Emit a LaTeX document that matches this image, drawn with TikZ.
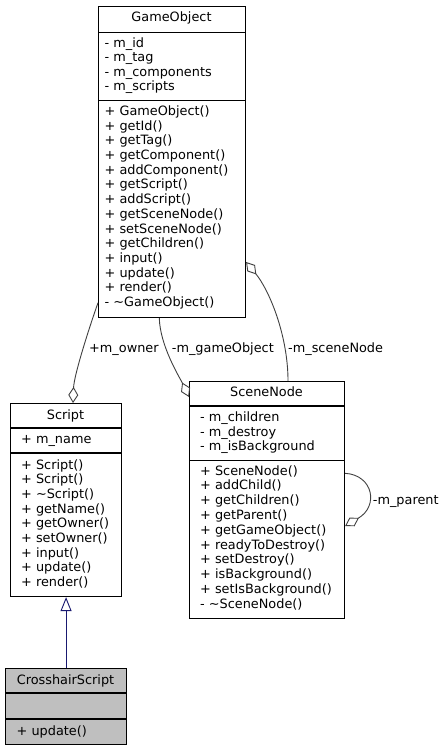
\documentclass[tikz,border=0pt]{standalone}
\usepackage{fontspec}
\setmainfont{DejaVu Sans}
\usetikzlibrary{arrows.meta}
\definecolor{edgegray}{HTML}{404040}
\definecolor{navyline}{HTML}{191970}
\definecolor{hilite}{HTML}{BFBFBF}
\begin{document}
\begin{tikzpicture}[x=1pt,y=-1pt,
  box/.style={draw=black, line width=1.1pt, fill=white, rectangle, inner sep=0pt, anchor=north west},
  sepline/.style={draw=black, line width=1.1pt},
  txt/.style={anchor=base west, inner sep=0pt, font=\fontsize{12.85}{14}\selectfont},
  hdr/.style={anchor=base, inner sep=0pt, font=\fontsize{12.85}{14}\selectfont},
  lbl/.style={anchor=base west, inner sep=0pt, font=\fontsize{12.85}{14}\selectfont},
  assoc/.style={draw=edgegray, line width=0.9pt, -{Diamond[open,length=16pt,width=10pt]}},
  inherit/.style={draw=navyline, line width=0.9pt, -{Triangle[open,length=14pt,width=11pt]}}
]
\useasboundingbox (0,0) rectangle (445,751);

% ---------- GameObject ----------
\node[box, minimum width=147pt, minimum height=311pt] (go) at (98,6) {};
\draw[sepline] ([yshift=-26.5pt]go.north west) -- ([yshift=-26.5pt]go.north east);
\draw[sepline] ([yshift=-94.7pt]go.north west) -- ([yshift=-94.7pt]go.north east);
\node[hdr] (goh) at (171.5,22) {GameObject};
\foreach \t [count=\i from 0] in {- m\_id, - m\_tag, - m\_components, - m\_scripts}
  \node[txt] (goa\i) at (104.5, 47.7+14.3*\i) {\t};
\foreach \t [count=\i from 0] in {+ GameObject(), + getId(), + getTag(), + getComponent(), + addComponent(), + getScript(), + addScript(), + getSceneNode(), + setSceneNode(), + getChildren(), + input(), + update(), + render(), - \textasciitilde GameObject()}
  \node[txt] (gom\i) at (104.5, 115.3+14.72*\i) {\t};

% ---------- Script ----------
\node[box, minimum width=111pt, minimum height=193pt] (sc) at (10,403) {};
\draw[sepline] ([yshift=-25pt]sc.north west) -- ([yshift=-25pt]sc.north east);
\draw[sepline] ([yshift=-50pt]sc.north west) -- ([yshift=-50pt]sc.north east);
\node[hdr] (sch) at (65.5,419) {Script};
\node[txt] (sca0) at (21,443.3) {+ m\_name};
\foreach \t [count=\i from 0] in {+ Script(), + Script(), + \textasciitilde Script(), + getName(), + getOwner(), + setOwner(), + input(), + update(), + render()}
  \node[txt] (scm\i) at (21, 469+14.7*\i) {\t};

% ---------- SceneNode ----------
\node[box, minimum width=155pt, minimum height=237pt] (sn) at (189,381) {};
\draw[sepline] ([yshift=-25pt]sn.north west) -- ([yshift=-25pt]sn.north east);
\draw[sepline] ([yshift=-79.7pt]sn.north west) -- ([yshift=-79.7pt]sn.north east);
\node[hdr] (snh) at (266.5,396.7) {SceneNode};
\foreach \t [count=\i from 0] in {- m\_children, - m\_destroy, - m\_isBackground}
  \node[txt] (sna\i) at (200, 421.7+14.3*\i) {\t};
\foreach \t [count=\i from 0] in {+ SceneNode(), + addChild(), + getChildren(), + getParent(), + getGameObject(), + readyToDestroy(), + setDestroy(), + isBackground(), + setIsBackground(), - \textasciitilde SceneNode()}
  \node[txt] (snm\i) at (200, 475+14.8*\i) {\t};

% ---------- CrosshairScript ----------
\node[box, fill=hilite, minimum width=121pt, minimum height=76pt] (ch) at (5,668) {};
\draw[sepline] ([yshift=-25pt]ch.north west) -- ([yshift=-25pt]ch.north east);
\draw[sepline] ([yshift=-51pt]ch.north west) -- ([yshift=-51pt]ch.north east);
\node[hdr] (chh) at (65.5,684) {CrosshairScript};
\node[txt] (chm0) at (16.5,735) {+ update()};

% ---------- connectors ----------
\draw[inherit] (ch.north) -- (sc.south);

\draw[assoc] ([yshift=15.3pt]go.south west) .. controls +(-8.3,23.3) and +(1,-28) .. ([xshift=63pt]sc.north west);
\node[lbl] (l1) at (89,352) {+m\_owner};

\draw[assoc] ([xshift=61.3pt]go.south west) .. controls +(0.7,28) and +(-9,-19) .. ([yshift=-16pt]sn.north west);
\node[lbl] (l2) at (171.7,352) {-m\_gameObject};

\draw[assoc] ([xshift=99pt]sn.north west) .. controls +(0,-46) and +(23,28) .. ([yshift=-256pt]go.north east);
\node[lbl] (l3) at (288,352) {-m\_sceneNode};

\draw[assoc] ([yshift=-92.3pt]sn.north east) .. controls +(28,1.7) and +(34,-20) .. ([yshift=-145pt]sn.north east);
\node[lbl] (l4) at (372.7,504) {-m\_parent};
\end{tikzpicture}
\end{document}
